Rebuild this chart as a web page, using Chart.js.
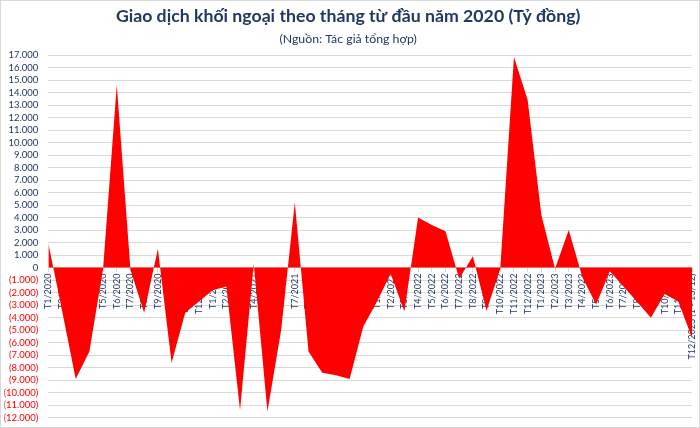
<!DOCTYPE html>
<html>
<head>
<meta charset="utf-8">
<script src="https://cdn.jsdelivr.net/npm/chart.js@4.4.1/dist/chart.umd.min.js"></script>
<style>
  html, body { margin: 0; padding: 0; background: #ffffff; }
  #wrap { width: 700px; height: 428px; }
</style>
</head>
<body>
<div id="wrap"><canvas id="chart" width="700" height="428"></canvas></div>
<script>
// categories (months)
const months = [
    'T1/2020', 'T2/2020', 'T3/2020', 'T4/2020', 'T5/2020', 'T6/2020',
    'T7/2020', 'T8/2020', 'T9/2020', 'T10/2020', 'T11/2020', 'T12/2020',
    'T1/2021', 'T2/2021', 'T3/2021', 'T4/2021', 'T5/2021', 'T6/2021',
    'T7/2021', 'T8/2021', 'T9/2021', 'T10/2021', 'T11/2021', 'T12/2021',
    'T1/2022', 'T2/2022', 'T3/2022', 'T4/2022', 'T5/2022', 'T6/2022',
    'T7/2022', 'T8/2022', 'T9/2022', 'T10/2022', 'T11/2022', 'T12/2022',
    'T1/2023', 'T2/2023', 'T3/2023', 'T4/2023', 'T5/2023', 'T6/2023',
    'T7/2023', 'T8/2023', 'T9/2023', 'T10/2023', 'T11/2023', 'T12/2023 (1 - 13/12)'
];

// net foreign trading, billion VND
const netValues = [
    1950, -3400, -8900, -6700, -100, 14600,
    -200, -3600, 1500, -7600, -3600, -2700,
    -1800, -1500, -11400, 300, -11500, -5000,
    5200, -6700, -8400, -8600, -8900, -4700,
    -2700, -500, -3500, 4000, 3400, 2900,
    -900, 900, -3450, -100, 16850, 13400,
    4200, -100, 3000, -800, -2950, -300,
    -1500, -2750, -4000, -2100, -2700, -5600
];

const yMin = -12000;
const yMax = 17000;
const yStep = 1000;

const NAVY = '#1F3864';
const RED = '#FF0000';
const GRID = '#D9D9D9';

const formatTick = (v) => {
    if (v === 0) {
        return '0';
    }
    const s = Math.abs(v).toString().replace(/\B(?=(\d{3})+(?!\d))/g, '.');
    return v < 0 ? '(' + s + ')' : s;
};

// thin grey frame round the whole chart
const framePlugin = {
    id: 'frame',
    afterDraw(chart) {
        const ctx = chart.ctx;
        ctx.save();
        ctx.strokeStyle = GRID;
        ctx.lineWidth = 1;
        ctx.strokeRect(0.5, 0.5, chart.width - 1, chart.height - 1);
        ctx.restore();
    }
};

const ctx = document.getElementById('chart').getContext('2d');
const chart = new Chart(ctx, {
    type: 'line',
    data: {
        labels: months,
        datasets: [
            {
                label: 'Giao dịch khối ngoại',
                data: netValues,
                backgroundColor: RED,
                borderColor: RED,
                borderWidth: 0,
                pointRadius: 0,
                tension: 0,
                fill: 'origin'
            }
        ]
    },
    options: {
        responsive: false,
        animation: false,
        layout: {
            padding: { left: 4.3, right: 8, top: 0, bottom: 10.3 }
        },
        plugins: {
            legend: { display: false },
            tooltip: { enabled: false },
            title: {
                display: true,
                text: 'Giao dịch khối ngoại theo tháng từ đầu năm 2020 (Tỷ đồng)',
                color: NAVY,
                font: { family: 'Lato', size: 17.7, weight: 'bold', lineHeight: 1.2 },
                padding: { top: 6, bottom: 4 }
            },
            subtitle: {
                display: true,
                text: '(Nguồn: Tác giả tổng hợp)',
                color: NAVY,
                font: { family: 'Lato', size: 12.3, lineHeight: 1.2 },
                padding: { top: 0, bottom: 9 }
            }
        },
        scales: {
            x: {
                type: 'category',
                offset: false,
                position: { y: 0 },
                z: 1,
                grid: {
                    drawOnChartArea: false,
                    drawTicks: true,
                    tickLength: 4,
                    color: GRID
                },
                border: { display: true, color: GRID },
                ticks: {
                    autoSkip: false,
                    minRotation: 90,
                    maxRotation: 90,
                    padding: 2,
                    color: NAVY,
                    font: { family: 'Lato', size: 9 }
                },
                afterFit: (scale) => {
                    scale.paddingLeft = 0;
                    scale.paddingRight = 0;
                }
            },
            y: {
                min: yMin,
                max: yMax,
                grid: {
                    color: GRID,
                    drawTicks: false
                },
                border: { display: false },
                ticks: {
                    autoSkip: false,
                    stepSize: yStep,
                    padding: 10,
                    color: (c) => (c.tick && c.tick.value < 0 ? RED : NAVY),
                    font: { family: 'Lato', size: 9.5 },
                    callback: (v) => formatTick(v)
                },
                afterFit: (scale) => {
                    scale.width = 44;
                    scale.paddingTop = 0;
                    scale.paddingBottom = 0;
                }
            }
        }
    },
    plugins: [framePlugin]
});
</script>
</body>
</html>
